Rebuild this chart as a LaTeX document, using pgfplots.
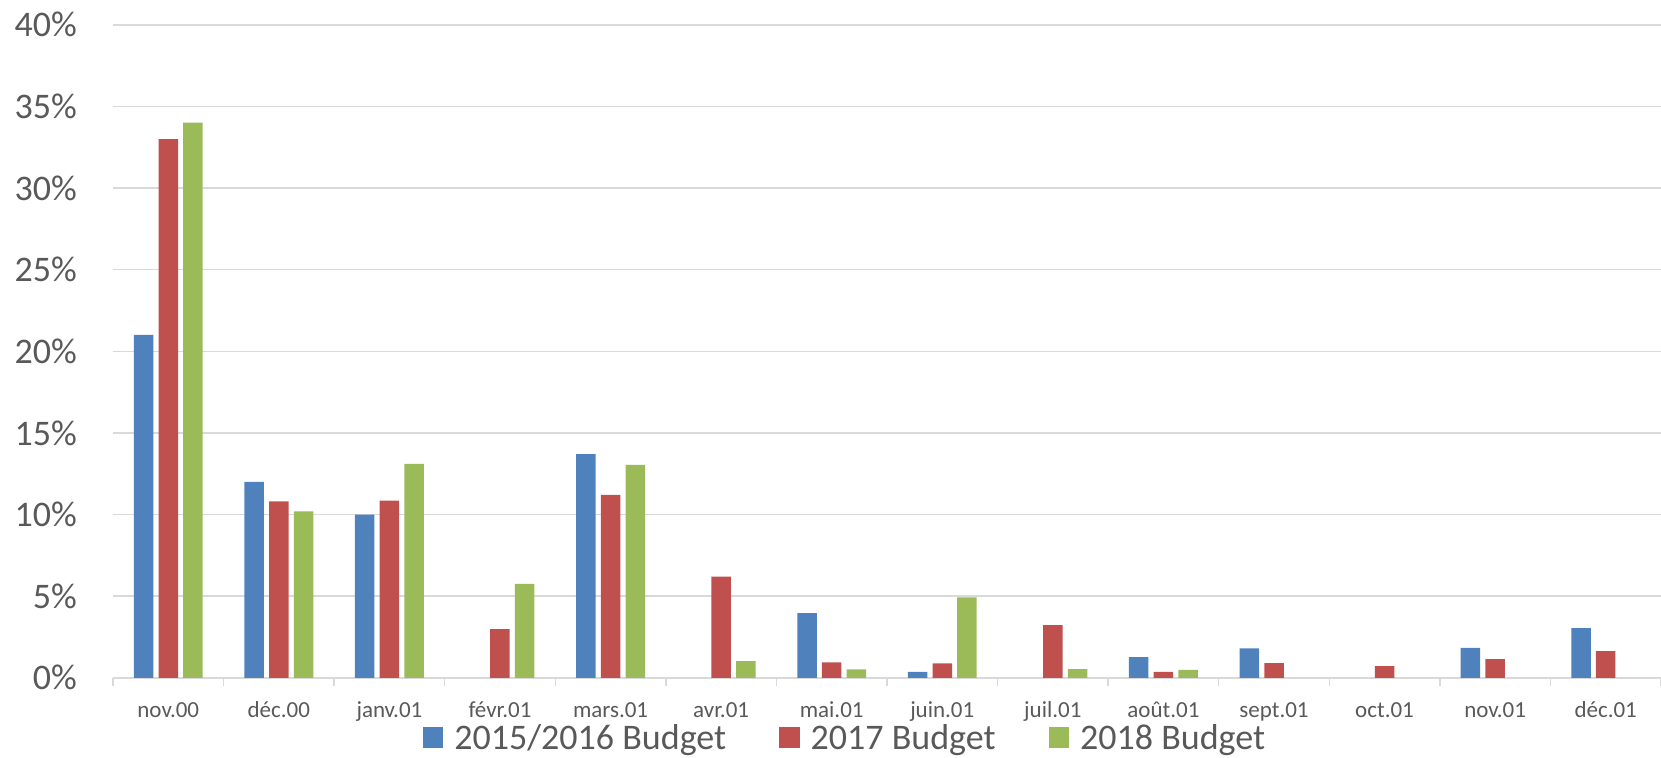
\documentclass[border=0pt]{standalone}
\usepackage{pgfplots}
\pgfplotsset{compat=1.18}
\usepackage{fontspec}
\setmainfont{Carlito}
\definecolor{sblue}{HTML}{4F81BD}
\definecolor{sred}{HTML}{C0504D}
\definecolor{sgreen}{HTML}{9BBB59}
\definecolor{txt}{HTML}{595959}
\definecolor{grid}{HTML}{D9D9D9}
\begin{document}
\begin{tikzpicture}
\path[use as bounding box] (-113bp,-79.3bp) rectangle (1548bp,677.8bp);
\begin{axis}[
  at={(0,0)}, anchor=south west,
  scale only axis,
  width=1548bp, height=653bp,
  xmin=-0.5, xmax=13.5, ymin=0, ymax=40,
  ybar=5.2bp, bar width=19.5bp,
  xtick={0,...,13},
  xticklabels={nov.00,déc.00,janv.01,févr.01,mars.01,avr.01,mai.01,juin.01,juil.01,août.01,sept.01,oct.01,nov.01,déc.01},
  minor xtick={-0.5,0.5,...,13.5},
  ytick={0,5,...,40},
  yticklabels={0\%,5\%,10\%,15\%,20\%,25\%,30\%,35\%,40\%},
  major tick length=0pt, minor tick length=8bp,
  tick align=outside,
  every minor tick/.style={draw=grid, line width=1.5bp},
  axis x line*=bottom, axis y line*=left,
  separate axis lines,
  x axis line style={draw=grid, line width=1.5bp, -},
  y axis line style={draw=none},
  ymajorgrids, grid style={draw=grid, line width=1.5bp},
  xticklabel style={font=\fontsize{23bp}{26bp}\selectfont, text=txt, anchor=base, inner sep=0pt, yshift=-39.6bp},
  yticklabel style={font=\fontsize{36bp}{40bp}\selectfont, text=txt, anchor=east, inner sep=0pt, xshift=-36bp},
  /pgf/number format/assume math mode=true,
  legend style={at={(axis description cs:0.4722,-0.1125)}, anchor=south, draw=none, fill=none,
    legend columns=-1, font=\fontsize{36bp}{40bp}\selectfont, text=txt, inner sep=0pt,
    nodes={inner sep=0pt},
    /tikz/every odd column/.append style={column sep=11bp},
    /tikz/every even column/.append style={column sep=53bp}},
  legend image code/.code={\path[#1, draw=none] (0bp,-10bp) rectangle (20.5bp,11bp);},
]
\addplot[fill=sblue, draw=none] coordinates {(0,21.0) (1,12.0) (2,10.0) (4,13.7) (6,3.96) (7,0.37) (9,1.27) (10,1.80) (12,1.84) (13,3.04)};
\addplot[fill=sred, draw=none] coordinates {(0,33.0) (1,10.8) (2,10.85) (3,2.98) (4,11.2) (5,6.2) (6,0.94) (7,0.88) (8,3.23) (9,0.37) (10,0.90) (11,0.72) (12,1.14) (13,1.63)};
\addplot[fill=sgreen, draw=none] coordinates {(0,34.0) (1,10.2) (2,13.1) (3,5.76) (4,13.05) (5,1.02) (6,0.51) (7,4.92) (8,0.53) (9,0.49)};
\legend{2015/2016 Budget, 2017 Budget, 2018 Budget}
\end{axis}
\end{tikzpicture}
\end{document}
